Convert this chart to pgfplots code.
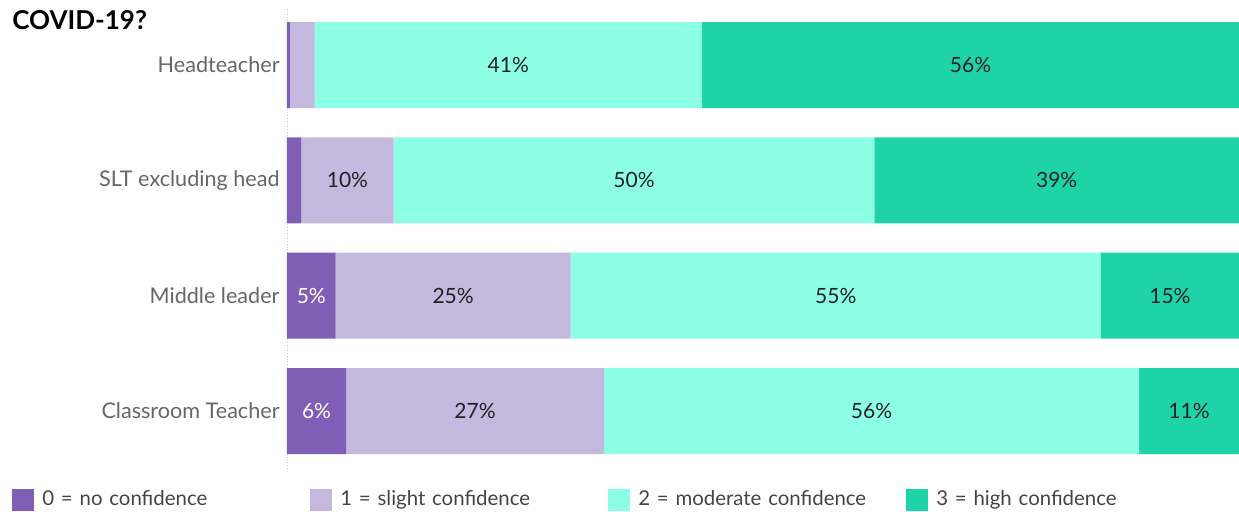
\documentclass[border=0pt]{standalone}
\usepackage{pgfplots}
\pgfplotsset{compat=1.18}
\usepackage{pgfplotstable}
\usepackage{fontspec}
\setmainfont{Lato}
\definecolor{c0}{HTML}{7F5FB5}
\definecolor{c1}{HTML}{C4B8DF}
\definecolor{c2}{HTML}{8DFFE5}
\definecolor{c3}{HTML}{1FD3A8}
\definecolor{lab}{HTML}{666666}
\definecolor{legtext}{HTML}{444444}
\definecolor{valtext}{HTML}{222222}

% y: 0 = Classroom Teacher, 1 = Middle leader, 2 = SLT excluding head, 3 = Headteacher
\pgfplotstableread{
y v lbl
3 0.3 {}
2 1.5 {}
1 5.1 5\%
0 6.2 6\%
}\tzero
\pgfplotstableread{
y v lbl
3 2.6 {}
2 9.7 10\%
1 24.7 25\%
0 27.1 27\%
}\tone
\pgfplotstableread{
y v lbl
3 40.7 41\%
2 50.5 50\%
1 55.7 55\%
0 56.2 56\%
}\ttwo
\pgfplotstableread{
y v lbl
3 56.4 56\%
2 38.3 39\%
1 14.5 15\%
0 10.5 11\%
}\tthree

\begin{document}
\begin{tikzpicture}
\path[use as bounding box] (0,0) rectangle (619.5pt,256pt);
\begin{axis}[
  at={(143.5pt,21.65pt)}, anchor=south west,
  scale only axis, width=476pt, height=230.67pt,
  xbar stacked, bar width=43pt,
  xmin=0, xmax=100, ymin=-0.5, ymax=3.5,
  axis x line=none,
  axis y line=left,
  y axis line style={draw=black!22, densely dotted, -},
  ytick={0,1,2,3},
  yticklabels={Classroom Teacher, Middle leader, SLT excluding head, Headteacher},
  major tick length=0pt,
  yticklabel style={font=\fontsize{10.8}{12}\selectfont, text=lab, inner sep=0pt, xshift=-3.5pt},
  title={COVID-19?},
  title style={at={(-0.2889,0.9574)}, anchor=base west, yshift=-7pt, font=\bfseries\fontsize{13}{15}\selectfont, inner sep=0pt},
  legend image code/.code={\fill[#1] (0pt,-5.5pt) rectangle (11pt,5.5pt);},
  legend columns=4,
  legend cell align=left,
  legend style={at={(-0.2889,-0.0678)}, anchor=west, draw=none, fill=none, inner sep=0pt,
    font=\fontsize{10.2}{12}\selectfont, text=legtext,
    nodes={inner sep=0pt},
    /tikz/every odd column/.append style={column sep=4pt},
    /tikz/every even column/.append style={text width=134pt}},
  every node near coord/.append style={font=\fontsize{10.5}{12}\selectfont},
]
\addplot[fill=c0, draw=none, nodes near coords, point meta=explicit symbolic,
  every node near coord/.append style={anchor=center, text=white}]
  table[x=v, y=y, meta=lbl] {\tzero};
\addlegendentry{0 = no confidence}
\addplot[fill=c1, draw=none, nodes near coords, point meta=explicit symbolic,
  every node near coord/.append style={anchor=center, text=valtext}]
  table[x=v, y=y, meta=lbl] {\tone};
\addlegendentry{1 = slight confidence}
\addplot[fill=c2, draw=none, nodes near coords, point meta=explicit symbolic,
  every node near coord/.append style={anchor=center, text=valtext}]
  table[x=v, y=y, meta=lbl] {\ttwo};
\addlegendentry{2 = moderate confidence}
\addplot[fill=c3, draw=none, nodes near coords, point meta=explicit symbolic,
  every node near coord/.append style={anchor=center, text=valtext}]
  table[x=v, y=y, meta=lbl] {\tthree};
\addlegendentry{3 = high confidence}
\end{axis}
\end{tikzpicture}
\end{document}
